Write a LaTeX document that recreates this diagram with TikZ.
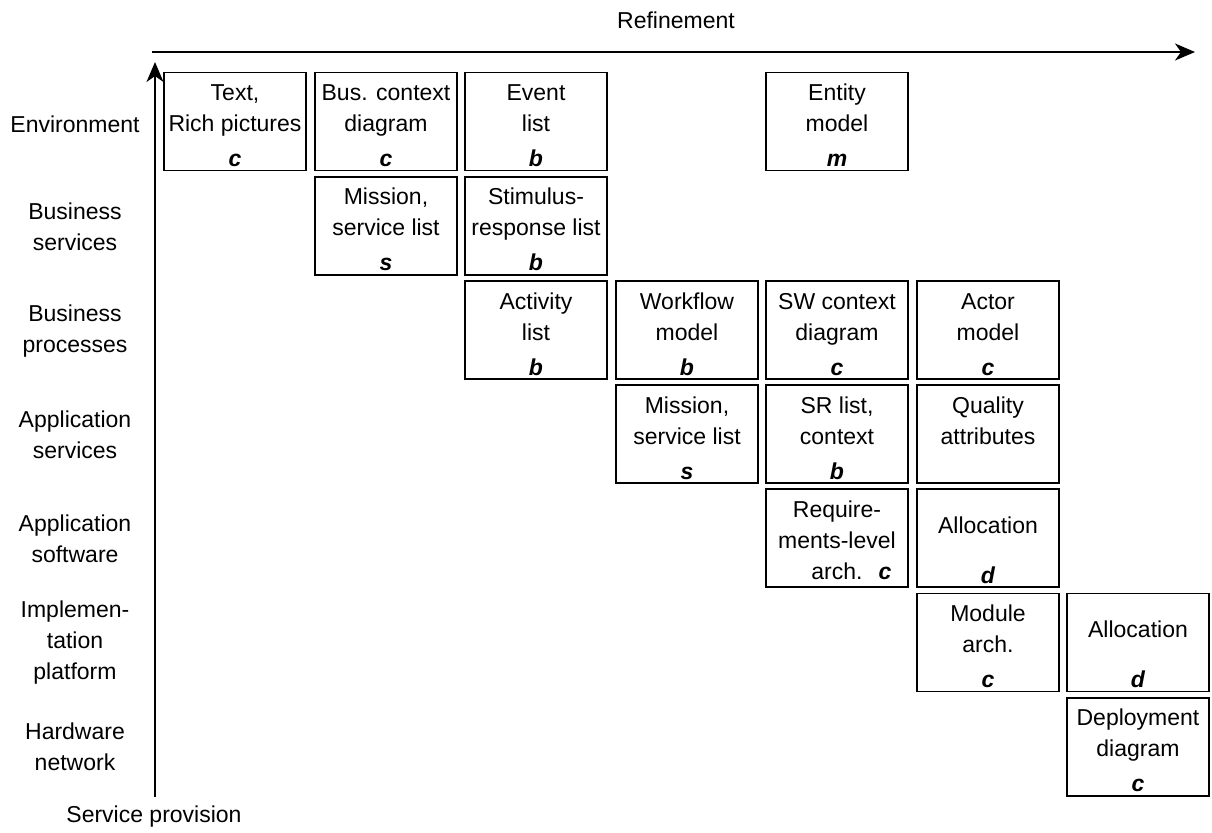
\documentclass[tikz,border=0pt]{standalone}
\usepackage{fontspec}
\setmainfont{Liberation Sans}
\usetikzlibrary{positioning, arrows.meta}

\newcommand{\kind}[1]{\textbf{\textit{#1}}}

\begin{document}
\begin{tikzpicture}[
            x=0.5pt, y=-0.5pt,
            font=\fontsize{11.5}{15.5}\selectfont,
            stage/.style={draw, line width=0.9pt, minimum width=71pt, minimum height=49pt,
                    inner sep=0pt, align=center, text height=45.4pt},
            rowlabel/.style={align=center},
            axis/.style={line width=0.9pt, -{Stealth[length=10pt, width=8.5pt, inset=3pt]}}
        ]
        \useasboundingbox (0,0) rectangle (1212,832);

        % Axes
        \coordinate (hstart) at (152,52);
        \coordinate (hend) at (1195,52);
        \coordinate (vstart) at (155,797);
        \coordinate (vend) at (155,62);
        \draw[axis] (hstart) -- (hend);
        \draw[axis] (vstart) -- (vend);
        \node (refine) at (676,20) {Refinement};
        \node (provision) at (154,817) {Service provision};

        % Row labels
        \node[rowlabel] (lenv) at (75,124) {Environment};
        \node[rowlabel] (lbsv) at (75,227) {Business\\services};
        \node[rowlabel] (lbpr) at (75,331) {Business\\processes};
        \node[rowlabel] (lasv) at (75,435) {Application\\services};
        \node[rowlabel] (lasw) at (75,539) {Application\\software};
        \node[rowlabel] (limp) at (75,643) {Implemen-\\tation\\platform};
        \node[rowlabel] (lhw) at (75,747) {Hardware\\network};

        % Environment
        \node[stage] (richpic) at (235,121.5) {Text,\\Rich pictures\\[2pt]\kind{c}};
        \node[stage] (busctx) at (386,121.5) {Bus. context\\diagram\\[2pt]\kind{c}};
        \node[stage] (event) at (536,121.5) {Event\\list\\[2pt]\kind{b}};
        \node[stage] (entity) at (837,121.5) {Entity\\model\\[2pt]\kind{m}};

        % Business services
        \node[stage] (busmission) at (386,225.7) {Mission,\\service list\\[2pt]\kind{s}};
        \node[stage] (stimresp) at (536,225.7) {Stimulus-\\response list\\[2pt]\kind{b}};

        % Business processes
        \node[stage] (activity) at (536,329.9) {Activity\\list\\[2pt]\kind{b}};
        \node[stage] (workflow) at (687,329.9) {Workflow\\model\\[2pt]\kind{b}};
        \node[stage] (swctx) at (837,329.9) {SW context\\diagram\\[2pt]\kind{c}};
        \node[stage] (actor) at (988,329.9) {Actor\\model\\[2pt]\kind{c}};

        % Application services
        \node[stage] (appmission) at (687,434.1) {Mission,\\service list\\[2pt]\kind{s}};
        \node[stage] (srlist) at (837,434.1) {SR list,\\context\\[2pt]\kind{b}};
        \node[stage] (quality) at (988,434.1) {Quality\\attributes\\[2pt]\mbox{}};

        % Application software
        \node[stage, text height=41.4pt] (reqarch) at (837,538.3) {Require-\\ments-level\\arch.\rlap{\hspace{8pt}\kind{c}}};
        \node[stage] (swalloc) at (988,538.3) {\raisebox{-7.75pt}[\height][\depth]{Allocation}\\[17.5pt]\kind{d}};

        % Implementation platform
        \node[stage] (module) at (988,642.5) {Module\\arch.\\[2pt]\kind{c}};
        \node[stage] (platalloc) at (1138,642.5) {\raisebox{-7.75pt}[\height][\depth]{Allocation}\\[17.5pt]\kind{d}};

        % Hardware network
        \node[stage] (deploy) at (1138,746.7) {Deployment\\diagram\\[2pt]\kind{c}};

    \end{tikzpicture}
\end{document}
